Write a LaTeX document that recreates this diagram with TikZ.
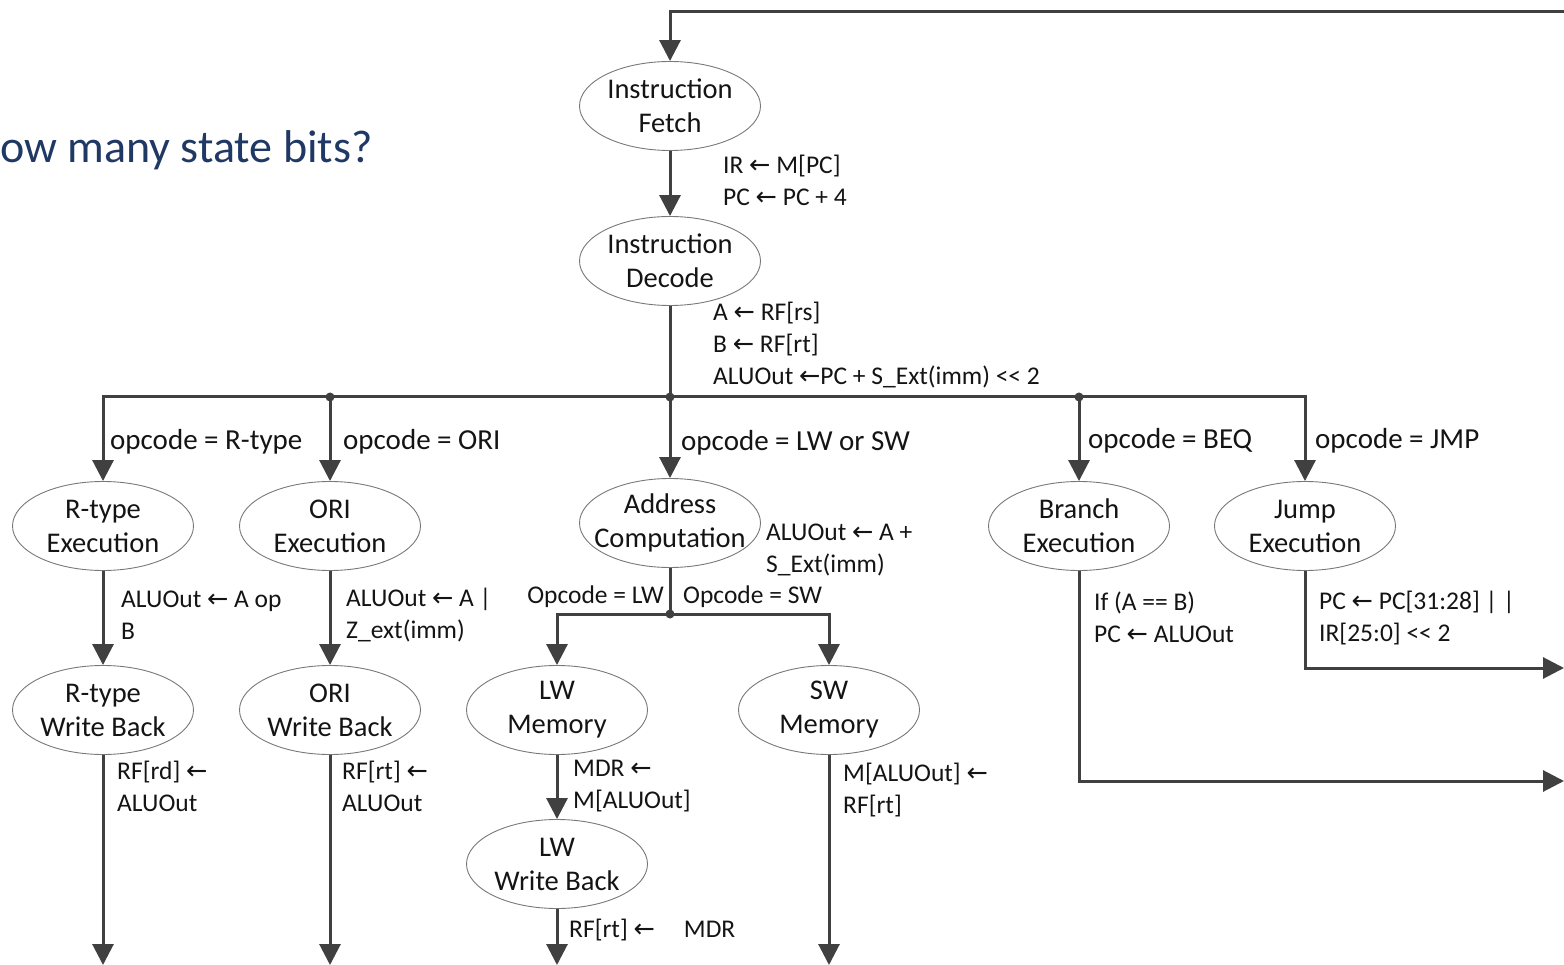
\documentclass[tikz,border=0pt]{standalone}
\usepackage{fontspec}
\setmainfont{Carlito}
\newfontfamily\symfont{DejaVu Sans}
\usetikzlibrary{shapes.geometric,arrows.meta}
\newcommand{\la}{{\symfont ←}}
\newcommand{\shl}{{<}{<}}
\definecolor{linegray}{RGB}{64,64,64}
\definecolor{ellgray}{RGB}{120,120,120}
\definecolor{titleblue}{RGB}{31,56,100}
\definecolor{txt}{RGB}{20,20,20}
\begin{document}
\begin{tikzpicture}[x=1pt,y=-1pt,
  state/.style={ellipse, draw=ellgray, line width=0.9pt, minimum width=181pt, minimum height=89pt,
    inner xsep=-20pt, inner ysep=0pt, align=center, text=txt, font=\fontsize{28.5}{34}\selectfont},
  flow/.style={line width=3pt, draw=linegray, line join=miter, -{Triangle[width=21pt,length=21pt]}},
  plain/.style={line width=3pt, draw=linegray},
  lbl/.style={font=\fontsize{29}{34}\selectfont, anchor=west, inner sep=0pt, text=txt},
  act/.style={font=\fontsize{25.5}{32}\selectfont, anchor=west, align=left, inner sep=0pt, text=txt},
  dotc/.style={fill=linegray}
]
\useasboundingbox (0,0) rectangle (1564,965);

% title
\node[font=\fontsize{46}{52}\selectfont, text=titleblue, anchor=west, inner sep=0pt] (title) at (0,150) {ow many state bits?};

% states
\node[state] (IF) at (670,106) {Instruction\\Fetch};
\node[state] (ID) at (670,261) {Instruction\\Decode};
\node[state] (RE) at (103,526) {R-type\\Execution};
\node[state] (OE) at (330,526) {ORI\\Execution};
\node[state] (AC) at (670,523) {Address\\Computation};
\node[state] (BE) at (1079,526) {Branch\\Execution};
\node[state] (JE) at (1305,526) {Jump\\Execution};
\node[state] (RW) at (103,710) {R-type\\Write Back};
\node[state] (OW) at (330,710) {ORI\\Write Back};
\node[state] (LM) at (557,710) {LW\\Memory};
\node[state] (SM) at (829,710) {SW\\Memory};
\node[state] (LWB) at (557,864) {LW\\Write Back};

% coordinates
\coordinate (top) at (1564,12);
\coordinate (bus) at (670,397);
\coordinate (busO) at (330,397);
\coordinate (busB) at (1079,397);
\coordinate (split) at (670,614);
\coordinate (jout) at (1564,668);
\coordinate (bout) at (1564,781);
\coordinate (RWend) at (103,965);
\coordinate (OWend) at (330,965);
\coordinate (LWBend) at (557,965);
\coordinate (SMend) at (829,965);

% connectors
\draw[flow] (top) -| (IF.north);
\draw[flow] (IF.south) -- (ID.north);
\draw[plain] (ID.south) -- (bus);
\draw[flow] (bus) -| (RE.north);
\draw[flow] (bus) -| (JE.north);
\draw[flow] (busO) -- (OE.north);
\draw[flow] (bus) -- (AC.north);
\draw[flow] (busB) -- (BE.north);
\draw[plain] (AC.south) -- (split);
\draw[flow] (split) -| (LM.north);
\draw[flow] (split) -| (SM.north);
\draw[flow] (RE.south) -- (RW.north);
\draw[flow] (OE.south) -- (OW.north);
\draw[flow] (LM.south) -- (LWB.north);
\draw[flow] (RW.south) -- (RWend);
\draw[flow] (OW.south) -- (OWend);
\draw[flow] (LWB.south) -- (LWBend);
\draw[flow] (SM.south) -- (SMend);
\draw[flow] (JE.south) |- (jout);
\draw[flow] (BE.south) |- (bout);

\fill[dotc] (busO) circle (4.5);
\fill[dotc] (bus) circle (4.5);
\fill[dotc] (busB) circle (4.5);
\fill[dotc] (split) circle (4.5);

% action labels
\node[act] (aIF) at (723,180) {IR \la{} M[PC]\\PC \la{} PC + 4};
\node[act] (aID) at (713,345) {A \la{} RF[rs]\\B \la{} RF[rt]\\ALUOut \la{}PC + S\_Ext(imm) \shl{} 2};
\node[act] (aRE) at (121,615) {ALUOut \la{} A op\\B};
\node[act] (aOE) at (346,615) {ALUOut \la{} A |\\Z\_ext(imm)};
\node[act] (aAC) at (766,550) {ALUOut \la{} A +\\S\_Ext(imm)};
\node[act] (aBE) at (1094,617) {If (A == B)\\PC \la{} ALUOut};
\node[act] (aJE) at (1319,618) {PC \la{} PC[31:28] | |\\IR[25:0] \shl{} 2};
\node[act] (aRW) at (117,786) {RF[rd] \la\\ALUOut};
\node[act] (aOW) at (342,786) {RF[rt] \la\\ALUOut};
\node[act] (aLM) at (573,786) {MDR \la\\M[ALUOut]};
\node[act] (aSM) at (843,790) {M[ALUOut] \la\\RF[rt]};
\node[act] (aLWB) at (569,930) {RF[rt] \la{}\hspace{29pt}MDR};

% condition labels
\node[lbl] (cR) at (110,442) {opcode = R-type};
\node[lbl] (cO) at (343,442) {opcode = ORI};
\node[lbl] (cA) at (681,443) {opcode = LW or SW};
\node[lbl] (cB) at (1088,441) {opcode = BEQ};
\node[lbl] (cJ) at (1315,441) {opcode = JMP};
\node[act, anchor=east] (cLW) at (664,597) {Opcode = LW};
\node[act] (cSW) at (683,597) {Opcode = SW};
\end{tikzpicture}
\end{document}
